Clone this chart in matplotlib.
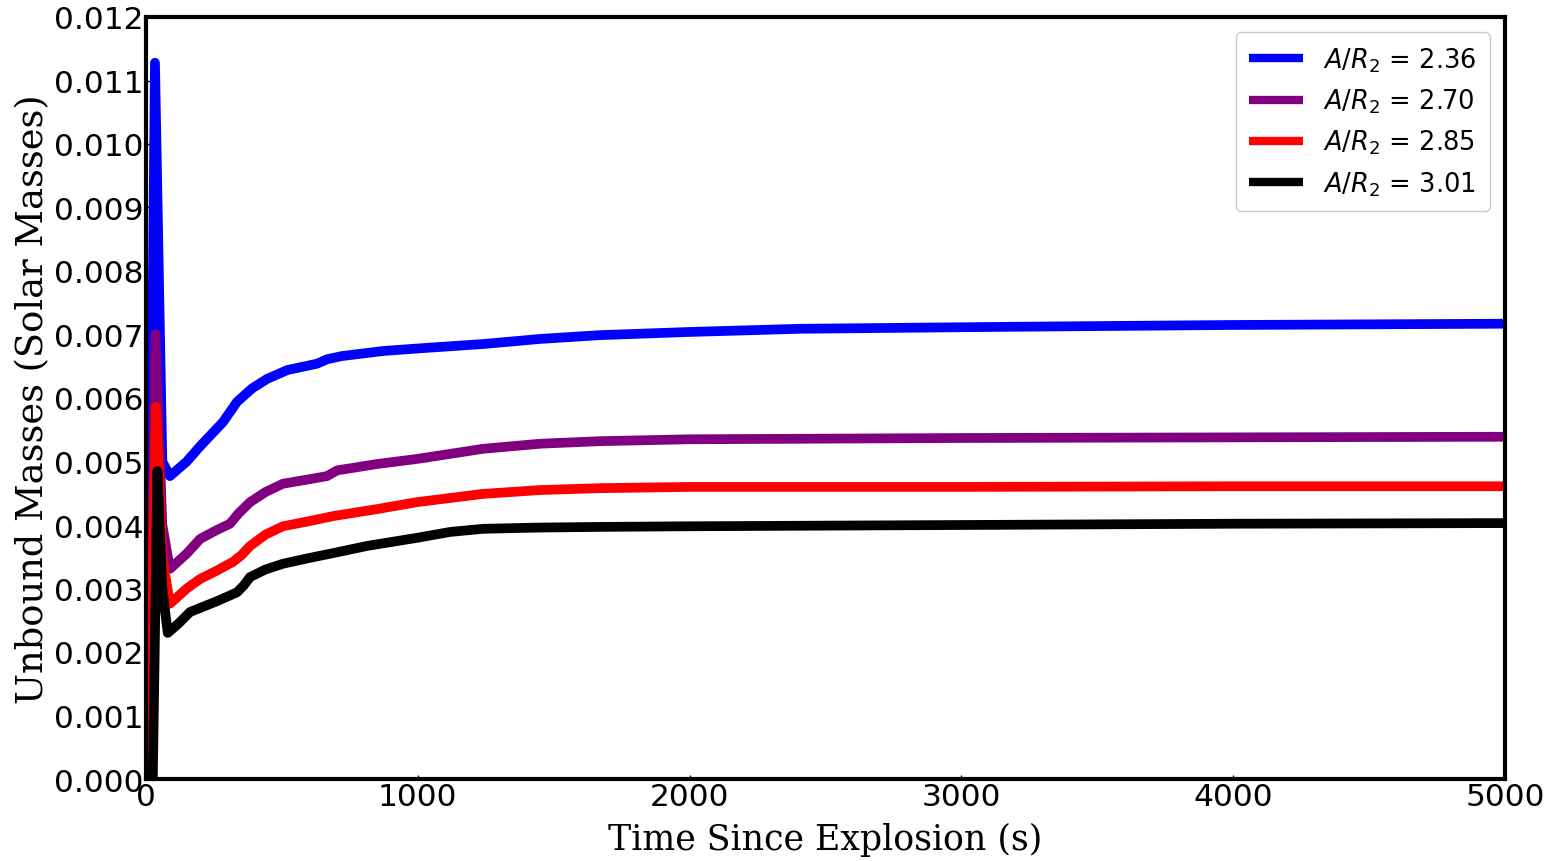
import matplotlib
matplotlib.use('Agg')
import matplotlib.pyplot as plt
import numpy as np

# Time samples (s) and unbound mass curves (solar masses)
t_blue = [0, 8, 33, 60, 88, 150, 199, 283, 335, 390, 445, 520, 629, 666, 720, 872,
          1000, 1240, 1450, 1670, 2000, 2406, 3142, 4000, 5000]
m_blue = [0.0, 0.0, 0.01128, 0.0050, 0.00477, 0.00500, 0.00524, 0.00562, 0.00594,
          0.00615, 0.00630, 0.00644, 0.00654, 0.00661, 0.00666, 0.00674,
          0.00678, 0.00685, 0.00693, 0.00699, 0.00704, 0.00709, 0.00712, 0.00715, 0.00717]

t_purple = [0, 8, 35, 60, 88, 150, 199, 260, 309, 340, 383, 440, 504, 600, 666, 703,
            850, 997, 1240, 1450, 1670, 2000, 3000, 4000, 5000]
m_purple = [0.0, 0.0, 0.00701, 0.0040, 0.00331, 0.00355, 0.00378, 0.00392, 0.00402,
            0.00418, 0.00436, 0.00452, 0.00465, 0.00472, 0.00477, 0.00486,
            0.00496, 0.00504, 0.00520, 0.00528, 0.00532, 0.00535, 0.00537, 0.00538, 0.00539]

t_red = [0, 10, 37, 60, 88, 150, 199, 260, 320, 350, 383, 440, 504, 600, 688,
         850, 997, 1240, 1450, 1670, 2000, 3000, 4000, 5000]
m_red = [0.0, 0.0, 0.00586, 0.0035, 0.00276, 0.00300, 0.00315, 0.00328, 0.00342,
         0.00352, 0.00367, 0.00385, 0.00398, 0.00406, 0.00414,
         0.00425, 0.00436, 0.00449, 0.00455, 0.00458, 0.00460, 0.00460, 0.00461, 0.00461]

t_black = [0, 25, 42, 60, 80, 120, 162, 261, 335, 360, 383, 440, 504, 600, 703,
           813, 1000, 1118, 1240, 1450, 1670, 2000, 3000, 4000, 5000]
m_black = [0.0, 0.0, 0.00485, 0.0030, 0.00230, 0.00245, 0.00263, 0.00280, 0.00294,
           0.00305, 0.00318, 0.00330, 0.00339, 0.00348, 0.00357,
           0.00367, 0.00380, 0.00389, 0.00394, 0.00396, 0.00397, 0.00398, 0.00400, 0.00402, 0.00403]

labels = [r'$A/R_2$ = 2.36', r'$A/R_2$ = 2.70', r'$A/R_2$ = 2.85', r'$A/R_2$ = 3.01']
colors = ['blue', 'purple', 'red', 'black']

fig = plt.figure(figsize=(15.56, 8.62), dpi=100)
ax = fig.add_axes([146 / 1556, 1 - 780 / 862, (1505 - 146) / 1556, (780 - 18) / 862])

series = [(t_blue, m_blue), (t_purple, m_purple), (t_red, m_red), (t_black, m_black)]
for (t, m), c, lab in zip(series, colors, labels):
    ax.plot(t, m, color=c, lw=7, label=lab, solid_capstyle='round', solid_joinstyle='round')

ax.set_xlim(0, 5000)
ax.set_ylim(0, 0.012)
ax.set_xticks([0, 1000, 2000, 3000, 4000, 5000])
ax.set_yticks(np.arange(0, 0.0121, 0.001))
ax.yaxis.set_major_formatter(matplotlib.ticker.FormatStrFormatter('%.3f'))
ax.tick_params(direction='in', length=3, width=1, labelsize=22.5, pad=2)

for sp in ax.spines.values():
    sp.set_linewidth(3)

ax.set_xlabel('Time Since Explosion (s)', family='DejaVu Serif', fontsize=25, labelpad=8)
ax.set_ylabel('Unbound Masses (Solar Masses)', family='DejaVu Serif', fontsize=26.5, labelpad=2)

leg = ax.legend(loc='upper right', fontsize=18.5, handlelength=2.1, borderpad=0.5,
                labelspacing=0.5, framealpha=1, borderaxespad=0.6)
for line in leg.get_lines():
    line.set_linewidth(6)
    line.set_solid_capstyle('butt')

fig.savefig('out.png', dpi=100)
